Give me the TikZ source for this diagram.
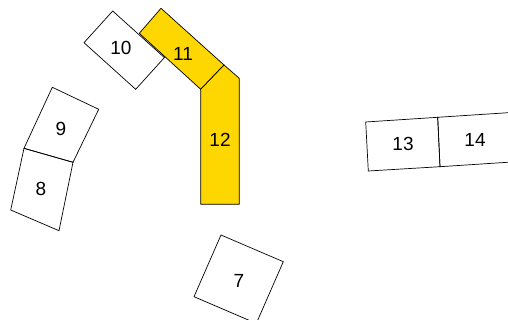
\documentclass[tikz,border=0pt]{standalone}
\usepackage{fontspec}
\setmainfont{Liberation Sans}
\definecolor{gold}{HTML}{FFD700}
\tikzset{
  x=1pt,y=-1pt,
  part/.style={draw=black,line width=0.7pt,line join=miter},
  hot/.style={part,fill=gold},
  lbl/.style={inner sep=0pt,font=\fontsize{19}{22}\selectfont}
}
\begin{document}
\begin{tikzpicture}
\useasboundingbox (0,0) rectangle (508,320);
\clip (0,0) rectangle (508,320);
% 10
\draw[part,fill=white] (112.7,11) -- (84,42.7) -- (135.7,89.3) -- (164.4,57.6) -- cycle;
% 11
\draw[hot] (161,8.3) -- (139.3,33.3) -- (200.7,89.3) -- (224,65) -- cycle;
% 12
\draw[hot] (200.7,89.3) -- (224,65) -- (239.3,78.3) -- (239.3,204.3) -- (200.7,204.3) -- cycle;
% 9
\draw[part] (52.3,87.3) -- (98.7,109.3) -- (73,162.3) -- (24,148.3) -- cycle;
% 8
\draw[part] (24,148.3) -- (73,162.3) -- (59,230.7) -- (10.7,210) -- cycle;
% 13
\draw[part] (365.7,122) -- (437.7,117.3) -- (440,166.7) -- (368.3,171) -- cycle;
% 14
\draw[part] (437.7,117.3) -- (509.7,112.6) -- (512,162) -- (440,166.7) -- cycle;
% 7
\draw[part] (221,235) -- (283.3,261.7) -- (256.3,323.4) -- (194,296.7) -- cycle;
\node[lbl] (l10) at (121,48) {10};
\node[lbl] (l11) at (183,54) {11};
\node[lbl] (l12) at (220,140) {12};
\node[lbl] (l9) at (61,129) {9};
\node[lbl] (l8) at (41,189) {8};
\node[lbl] (l13) at (403,144) {13};
\node[lbl] (l14) at (475,140) {14};
\node[lbl] (l7) at (239,281) {7};
\end{tikzpicture}
\end{document}
